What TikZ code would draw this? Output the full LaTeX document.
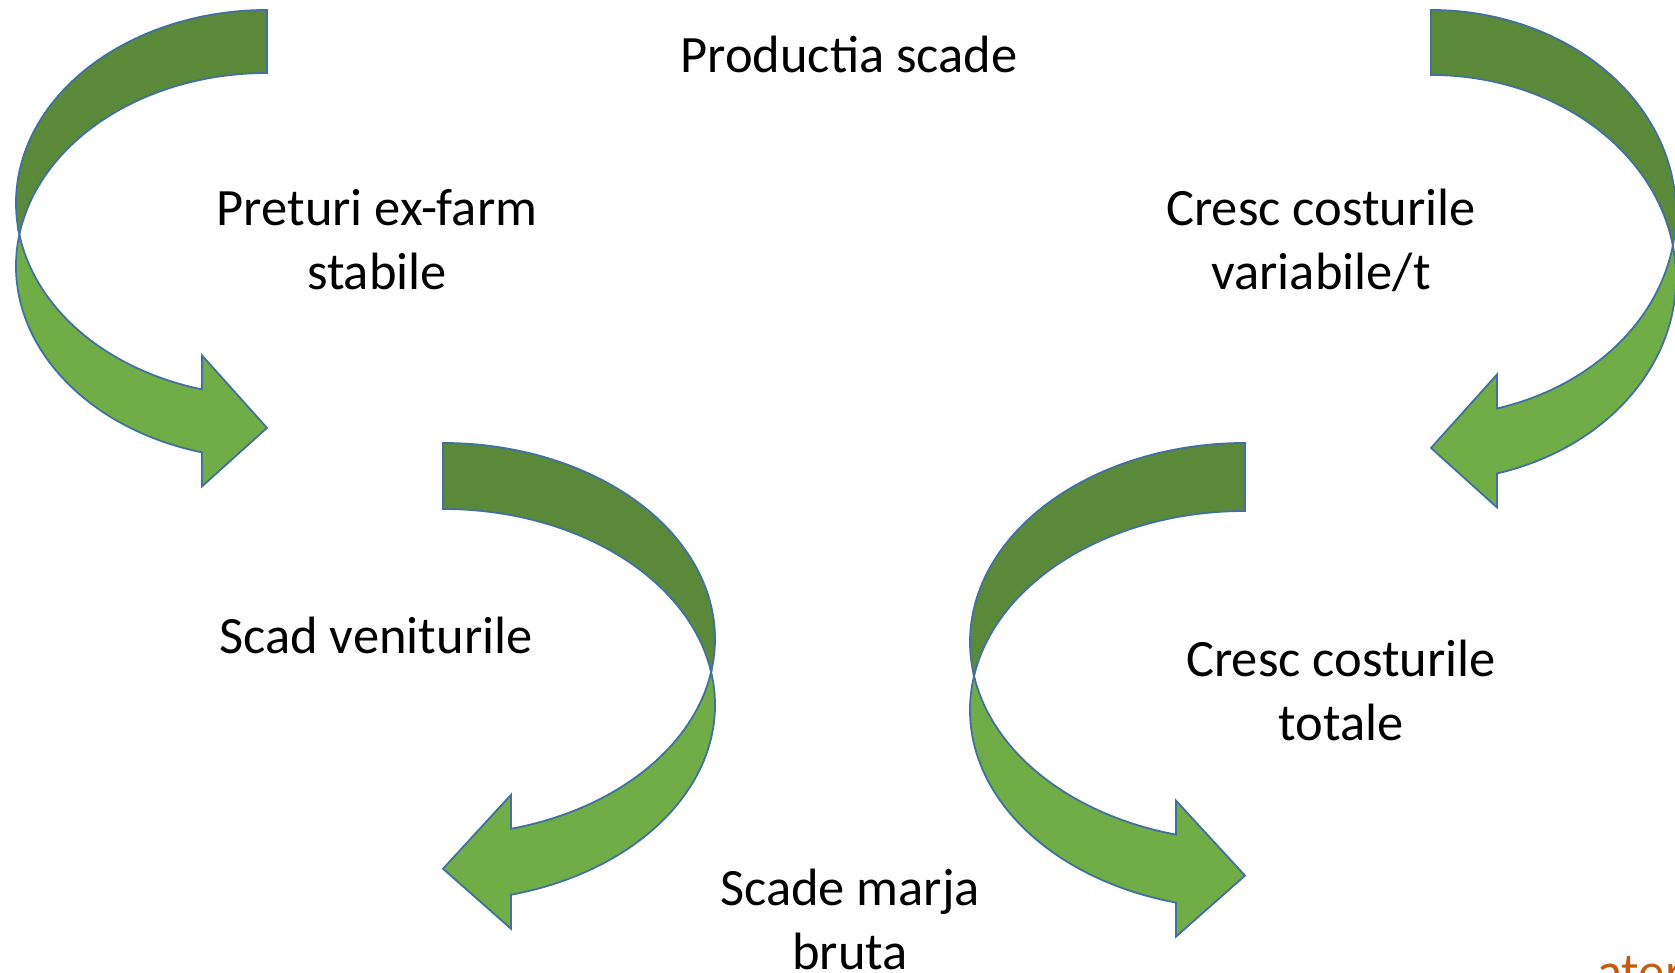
\documentclass[tikz,border=0pt]{standalone}
\usepackage{fontspec}
\setmainfont{Carlito}
\usepackage{xcolor}
\definecolor{vertFonce}{HTML}{5A8A39}
\definecolor{vertClair}{HTML}{70AD47}
\definecolor{bordBleu}{HTML}{41719C}
\definecolor{orangeTitre}{HTML}{C55A11}
\tikzset{
FlecheDos/.style={
 fill=vertFonce, 
 draw=bordBleu, 
 line width=1.8pt
 },
FlecheFace/.style={
 fill=vertClair, 
 draw=bordBleu, 
 line width=1.8pt
 },
Texte/.style={
 font=\fontsize{52.5}{64}\selectfont, 
 align=center, 
 inner sep=0pt, 
 anchor=base
 }
}
% #1 rx, #2 ry, #3 epaisseur, #4 recul de la tete
\newcommand{\FlecheCourbe}[4]{
 \pgfmathsetmacro\angCr{asin(#3/2/#2)}
 \pgfmathsetmacro\angTe{180+acos(#4/#1)}
 \pgfmathsetmacro\yInt{-#2+#2*sin(\angTe)}
 \pgfmathsetmacro\yExt{\yInt-#3}
 \pgfmathsetmacro\yPte{\yInt-#3/2-7}
 \coordinate (croise) at ({-#1*cos(\angCr)},{-#2-#3/2});
 \draw[FlecheDos] (0,0) arc[start angle=90,end angle=180+\angCr,x radius=#1,y radius=#2]
 arc[start angle=180-\angCr,end angle=90,x radius=#1,y radius=#2] -- cycle;
 \draw[FlecheFace] (croise) arc[start angle=180-\angCr,end angle=\angTe,x radius=#1,y radius=#2]
 -- (-#4,\yExt-34) -- (0,\yPte) -- (-#4,\yInt+34) -- (-#4,\yInt)
 arc[start angle=\angTe,end angle=180+\angCr,x radius=#1,y radius=#2] -- cycle;
}

\begin{document}
\begin{tikzpicture}[x=1pt,y=1pt]
\useasboundingbox (0,0) rectangle (1675,973);
\clip (0,0) rectangle (1675,973);
\begin{scope}[shift={(267,963)}]
\FlecheCourbe{251}{193}{63}{65}
\end{scope}
\begin{scope}[shift={(1431,963)},xscale=-1]
\FlecheCourbe{245}{203}{65}{66}
\end{scope}
\begin{scope}[shift={(443,530)},xscale=-1]
\FlecheCourbe{272}{196}{66}{68}
\end{scope}
\begin{scope}[shift={(1245,530)}]
\FlecheCourbe{275}{199}{68}{69}
\end{scope}
\node[Texte] (productie) at (849,900) {Productia scade};
\node[Texte] (preturi) at (377,683) {Preturi ex-farm\\stabile};
\node[Texte] (costvar) at (1321,683) {Cresc costurile\\variabile/t};
\node[Texte] (venituri) at (376,319) {Scad veniturile};
\node[Texte] (costtot) at (1341,232) {Cresc costurile\\totale};
\node[Texte] (marja) at (850,3) {Scade marja\\bruta};
\node[Texte,anchor=base west,text=orangeTitre] (coin) at (1597,-17) {ater};
\end{tikzpicture}
\end{document}
